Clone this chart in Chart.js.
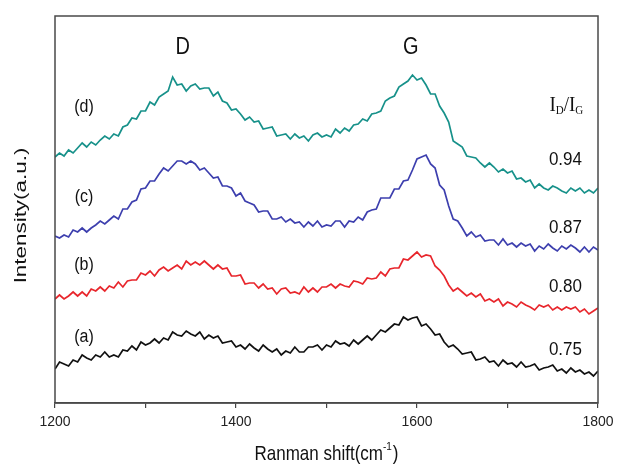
<!DOCTYPE html>
<html><head><meta charset="utf-8">
<script src="https://cdn.jsdelivr.net/npm/chart.js@4"></script>
<style>html,body{margin:0;padding:0;background:#fff}#wrap{width:617px;height:471px}</style>
</head><body><div id="wrap"><canvas id="c" width="617" height="471"></canvas></div>
<script>
const wavenumbers = [
1200,1205,1210,1215,1220,1225,1230,1235,1240,1245,
1250,1255,1260,1265,1270,1275,1280,1285,1290,1295,
1300,1305,1310,1315,1320,1325,1330,1335,1340,1345,
1350,1355,1360,1365,1370,1375,1380,1385,1390,1395,
1400,1405,1410,1415,1420,1425,1430,1435,1440,1445,
1450,1455,1460,1465,1470,1475,1480,1485,1490,1495,
1500,1505,1510,1515,1520,1525,1530,1535,1540,1545,
1550,1555,1560,1565,1570,1575,1580,1585,1590,1595,
1600,1605,1610,1615,1620,1625,1630,1635,1640,1645,
1650,1655,1660,1665,1670,1675,1680,1685,1690,1695,
1700,1705,1710,1715,1720,1725,1730,1735,1740,1745,
1750,1755,1760,1765,1770,1775,1780,1785,1790,1795,
1800];
const seriesD = [
246,250,247,253,250,255,260,256,261,258,
263,267,264,269,267,276,278,285,284,292,
292,301,298,306,309,312,326,318,319,312,
317,319,314,315,315,307,311,302,300,293,
294,289,283,286,281,282,274,275,276,267,
268,269,264,269,265,267,262,268,270,266,
268,266,274,270,275,272,278,279,284,282,
289,290,292,302,305,307,316,319,322,328,
323,325,318,309,309,297,290,281,262,259,
256,247,246,245,240,236,240,236,231,234,
230,232,224,225,221,223,215,219,215,213,
217,215,212,210,215,212,215,210,213,210,
215];
const seriesC = [
167,165,168,166,173,171,175,171,175,178,
182,179,183,187,184,194,194,201,203,214,
215,222,222,229,235,232,237,242,242,239,
242,239,233,235,230,225,226,217,217,215,
207,210,202,200,198,191,192,192,184,184,
186,181,184,180,181,176,181,177,182,176,
178,177,182,182,176,182,181,186,183,191,
193,194,205,205,205,214,214,222,223,233,
244,246,248,239,235,218,213,197,184,182,
175,167,171,166,168,162,163,163,158,164,
158,160,156,160,157,159,152,157,154,159,
155,152,157,154,158,155,151,156,151,156,
153];
const seriesB = [
104,108,104,107,111,107,111,107,114,112,
116,112,117,115,121,116,122,123,123,130,
128,132,127,133,136,132,135,138,134,142,
138,141,138,142,138,134,138,134,135,127,
127,128,119,120,120,115,119,114,115,109,
114,115,110,111,109,116,111,115,111,116,
116,119,115,119,117,116,122,121,119,125,
124,125,131,127,134,135,135,144,143,147,
151,146,148,147,137,133,127,118,112,115,
111,107,110,106,109,102,104,101,104,97,
101,99,96,101,98,96,93,98,96,98,
93,96,93,96,94,96,91,94,89,92,
95];
const seriesA = [
34,41,39,37,43,41,48,45,43,48,
46,51,46,48,46,53,52,57,53,61,
58,60,64,60,65,63,71,68,67,72,
69,67,71,64,68,65,67,60,61,62,
56,58,54,59,55,52,58,54,51,54,
48,52,50,56,51,51,56,56,58,53,
58,56,62,59,60,57,63,59,63,67,
63,68,73,71,75,79,78,86,83,85,
86,77,79,74,68,69,61,56,58,54,
49,50,51,43,44,46,41,42,37,43,
39,40,36,41,36,37,39,33,35,36,
38,32,34,30,35,31,33,29,31,27,
32];
const seriesNames = ['(a)','(b)','(c)','(d)'];
const ratioLabels = ['0.75','0.80','0.87','0.94'];
const peakLabels = ['D','G'];
const xTickValues = [1200,1400,1600,1800];
const xTickLabels = ['1200','1400','1600','1800'];
const xTitle = 'Ranman shift(cm';
const xTitleSup = '-1';
const yTitle = 'Intensity(a.u.)';

const colors = ['#111111','#e8262c','#3d3fae','#17918a'];
const allSeries = [seriesA, seriesB, seriesC, seriesD];

function toPts(arr){ return wavenumbers.map((w,i)=>({x:w,y:arr[i]})); }

const SANS = '"Liberation Sans", Arial, sans-serif';
const SERIF = '"Liberation Serif", "Times New Roman", serif';

function stxt(ctx, s, x, y, size, sy, family, align){
  ctx.save();
  ctx.translate(x, y);
  ctx.scale(1, sy);
  ctx.font = size + 'px ' + (family || SANS);
  ctx.textAlign = align || 'center';
  ctx.textBaseline = 'middle';
  ctx.fillText(s, 0, 0);
  ctx.restore();
}

const decor = {
  id: 'decor',
  afterDraw(chart){
    const ctx = chart.ctx, a = chart.chartArea;
    const xs = chart.scales.x, ys = chart.scales.y;
    ctx.save();
    ctx.strokeStyle = '#4a4a4a';
    ctx.lineWidth = 1.5;
    ctx.strokeRect(a.left, a.top, a.right - a.left, a.bottom - a.top);
    ctx.fillStyle = '#222';
    xTickValues.forEach((v,i)=>{
      stxt(ctx, xTickLabels[i], xs.getPixelForValue(v), a.bottom + 19, 14, 1.1);
    });
    // x title with superscript
    ctx.fillStyle = '#111';
    ctx.font = '17px ' + SANS;
    const w1 = ctx.measureText(xTitle).width;
    ctx.font = '10px ' + SANS;
    const w2 = ctx.measureText(xTitleSup).width;
    ctx.font = '17px ' + SANS;
    const w3 = ctx.measureText(')').width;
    const total = w1 + w2 + w3 + 1;
    let sx = (a.left + a.right)/2 - total/2;
    const ty = 455;
    stxt(ctx, xTitle, sx, ty, 17, 1.15, SANS, 'left');
    stxt(ctx, xTitleSup, sx + w1, ty - 8, 10, 1.1, SANS, 'left');
    stxt(ctx, ')', sx + w1 + w2 + 1, ty, 17, 1.15, SANS, 'left');
    // y title
    ctx.save();
    ctx.translate(22, (a.top + a.bottom)/2 + 6);
    ctx.rotate(-Math.PI/2);
    ctx.scale(1.4, 1);
    ctx.font = '16px ' + SANS;
    ctx.textAlign = 'center';
    ctx.textBaseline = 'middle';
    ctx.fillText(yTitle, 0, 0);
    ctx.restore();
    // peak labels
    ctx.fillStyle = '#111';
    stxt(ctx, peakLabels[0], xs.getPixelForValue(1341), ys.getPixelForValue(355), 20, 1.15);
    stxt(ctx, peakLabels[1], xs.getPixelForValue(1593), ys.getPixelForValue(355), 20, 1.15);
    // series labels
    const nameY = [66, 138, 206, 296];
    seriesNames.forEach((n,i)=>{
      stxt(ctx, n, xs.getPixelForValue(1232), ys.getPixelForValue(nameY[i]), 16, 1.15);
    });
    // ratio labels
    const ratioY = [53, 116, 175, 243];
    ratioLabels.forEach((r,i)=>{
      stxt(ctx, r, xs.getPixelForValue(1764), ys.getPixelForValue(ratioY[i]), 17, 1.1);
    });
    // ID/IG
    const cx = xs.getPixelForValue(1765), cy = ys.getPixelForValue(298);
    ctx.font = '19px ' + SERIF;
    const wI = ctx.measureText('I').width, wS = ctx.measureText('/').width;
    ctx.font = '11px ' + SERIF;
    const wD = ctx.measureText('D').width, wG = ctx.measureText('G').width;
    let px = cx - (wI*2 + wS + wD + wG)/2;
    stxt(ctx, 'I', px, cy, 19, 1.15, SERIF, 'left'); px += wI;
    stxt(ctx, 'D', px, cy + 6, 11, 1.1, SERIF, 'left'); px += wD;
    stxt(ctx, '/', px, cy, 19, 1.15, SERIF, 'left'); px += wS;
    stxt(ctx, 'I', px, cy, 19, 1.15, SERIF, 'left'); px += wI;
    stxt(ctx, 'G', px, cy + 6, 11, 1.1, SERIF, 'left');
    ctx.restore();
  }
};

new Chart(document.getElementById('c'), {
  type: 'line',
  data: {
    datasets: allSeries.map((s,i)=>({
      label: seriesNames[i],
      data: toPts(s),
      borderColor: colors[i],
      borderWidth: 1.7,
      pointRadius: 0,
      tension: 0,
      fill: false
    }))
  },
  options: {
    responsive: false,
    animation: false,
    devicePixelRatio: 1,
    layout: { padding: { left: 55, right: 19, top: 16, bottom: 0 } },
    plugins: { legend: { display: false }, tooltip: { enabled: false } },
    scales: {
      x: {
        type: 'linear', min: 1200, max: 1800,
        ticks: { stepSize: 100, callback: () => '', font: { size: 13 } },
        grid: { drawOnChartArea: false, drawTicks: true, tickLength: 5, color: '#444', lineWidth: 1.2 },
        border: { display: true, color: '#4a4a4a', width: 1.5 },
        afterFit: s => { s.height = 68; }
      },
      y: { display: false, min: 0, max: 387 }
    }
  },
  plugins: [decor]
});
</script></body></html>
